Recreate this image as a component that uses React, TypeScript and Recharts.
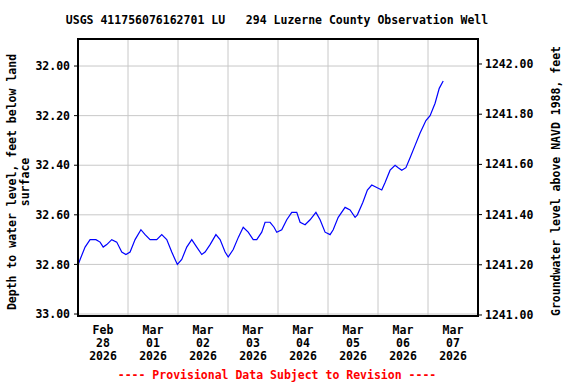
import { LineChart, Line, XAxis, YAxis, CartesianGrid, ReferenceArea } from 'recharts';

// hours since Feb 28 2026 00:00
const hours = [
    0.1, 1.0, 3.4, 5.8, 8.6, 10.6, 12.1, 13.8, 16.2, 18.6, 21.0, 23.0, 25.0, 27.4, 30.2, 32.2,
    34.6, 37.8, 40.2, 42.6, 45.0, 46.6, 47.7, 49.8, 52.2, 54.6, 57.0, 59.4, 61.0, 63.4, 66.2,
    68.2, 70.6, 72.1, 74.5, 77.0, 79.3, 81.7, 84.1, 85.8, 88.2, 89.8, 92.2, 94.1, 95.4, 97.8,
    100.2, 102.6, 105.0, 106.6, 109.0, 111.4, 114.2, 116.2, 118.6, 121.0, 122.5, 124.9, 128.2,
    130.6, 133.0, 134.1, 136.7, 138.9, 141.0, 143.4, 145.8, 147.4, 149.8, 152.2, 153.7, 155.4,
    157.4, 159.4, 161.8, 164.2, 167.0, 169.0, 171.4, 173.4, 175.3,
];

// depth to water, feet below land surface
const depthFt = [
    32.80, 32.78, 32.73, 32.70, 32.70, 32.71, 32.73, 32.72, 32.70, 32.71, 32.75, 32.76, 32.75,
    32.70, 32.66, 32.68, 32.70, 32.70, 32.68, 32.70, 32.75, 32.78, 32.80, 32.78, 32.73, 32.70,
    32.73, 32.76, 32.75, 32.72, 32.68, 32.70, 32.75, 32.77, 32.74, 32.69, 32.65, 32.67, 32.70,
    32.70, 32.67, 32.63, 32.63, 32.65, 32.67, 32.66, 32.62, 32.59, 32.59, 32.63, 32.64, 32.62,
    32.59, 32.62, 32.67, 32.68, 32.66, 32.61, 32.57, 32.58, 32.61, 32.60, 32.55, 32.50, 32.48,
    32.49, 32.50, 32.47, 32.42, 32.40, 32.41, 32.42, 32.41, 32.37, 32.32, 32.27, 32.22, 32.20,
    32.15, 32.09, 32.06,
];

const dayLabels = [
    ['Feb', '28'], ['Mar', '01'], ['Mar', '02'], ['Mar', '03'],
    ['Mar', '04'], ['Mar', '05'], ['Mar', '06'], ['Mar', '07'],
];
const yearLabel = '2026';
const hourTicks = [0, 24, 48, 72, 96, 120, 144, 168, 192];
const depthTicks = [32.0, 32.2, 32.4, 32.6, 32.8, 33.0];
const elevTicks = [1241.0, 1241.2, 1241.4, 1241.6, 1241.8, 1242.0];

const data = hours.map((h, i) => ({ h, depth: depthFt[i] }));

const FONT = "'DejaVu Sans Mono', monospace";
const tickStyle = { fill: '#000', fontSize: 11.5, fontFamily: FONT, fontWeight: 'bold' as const };

function DayTick({ x, y, payload }: any) {
    const idx = hourTicks.indexOf(payload.value);
    if (idx < 0 || idx >= dayLabels.length) return null;
    const cx = x + 25;
    return (
        <g>
            {[dayLabels[idx][0], dayLabels[idx][1], yearLabel].map((t, i) => (
                <text key={i} x={cx} y={y + 18 + i * 13} textAnchor="middle" {...tickStyle}>
                    {t}
                </text>
            ))}
        </g>
    );
}

export default function App() {
    return (
        <div style={{ position: 'absolute', left: 0, top: 0, width: 576, height: 384, background: '#fff' }}>
            <LineChart width={576} height={384} data={data} margin={{ top: 39, right: 0, bottom: 8, left: 0 }}>
                <CartesianGrid yAxisId="left" stroke="#c8c8c8" strokeWidth={1} />
                <XAxis
                    dataKey="h"
                    type="number"
                    domain={[0, 192]}
                    ticks={hourTicks}
                    tick={<DayTick />}
                    tickLine={false}
                    tickSize={0}
                    tickMargin={0}
                    height={60}
                    axisLine={{ stroke: '#000', strokeWidth: 2 }}
                    interval={0}
                />
                <YAxis
                    yAxisId="left"
                    type="number"
                    domain={[31.891, 33.008]}
                    allowDataOverflow
                    reversed
                    ticks={depthTicks}
                    tickFormatter={(v: number) => v.toFixed(2)}
                    tick={tickStyle}
                    tickSize={4}
                    tickMargin={4}
                    tickLine={{ stroke: '#000' }}
                    axisLine={{ stroke: '#000', strokeWidth: 2 }}
                    width={78}
                    interval={0}
                />
                <YAxis
                    yAxisId="right"
                    orientation="right"
                    type="number"
                    domain={[1240.996, 1242.0996]}
                    allowDataOverflow
                    ticks={elevTicks}
                    tickFormatter={(v: number) => v.toFixed(2)}
                    tick={tickStyle}
                    tickSize={4}
                    tickMargin={3}
                    tickLine={{ stroke: '#000' }}
                    axisLine={{ stroke: '#000', strokeWidth: 2 }}
                    width={98}
                    interval={0}
                />
                <ReferenceArea
                    yAxisId="left"
                    x1={0}
                    x2={192}
                    y1={31.891}
                    y2={33.008}
                    fill="none"
                    stroke="#000"
                    strokeWidth={2}
                    fillOpacity={0}
                />
                <Line
                    yAxisId="left"
                    dataKey="depth"
                    type="linear"
                    stroke="#0000ff"
                    strokeWidth={1.2}
                    dot={false}
                    isAnimationActive={false}
                />
            </LineChart>
            <svg width={576} height={384} style={{ position: 'absolute', left: 0, top: 0, pointerEvents: 'none' }}>
                <text x={277} y={24} textAnchor="middle" style={{ whiteSpace: 'pre' }} {...tickStyle}>
                    {'USGS 411756076162701 LU   294 Luzerne County Observation Well'}
                </text>
                <text transform="translate(12,182) rotate(-90)" textAnchor="middle" dominantBaseline="central" {...tickStyle}>
                    Depth to water level, feet below land
                </text>
                <text transform="translate(25,182) rotate(-90)" textAnchor="middle" dominantBaseline="central" {...tickStyle}>
                    surface
                </text>
                <text transform="translate(556,181) rotate(-90)" textAnchor="middle" dominantBaseline="central" {...tickStyle}>
                    Groundwater level above NAVD 1988, feet
                </text>
                <text x={277} y={379} textAnchor="middle" {...tickStyle} fill="#ff0000">
                    ---- Provisional Data Subject to Revision ----
                </text>
            </svg>
        </div>
    );
}
